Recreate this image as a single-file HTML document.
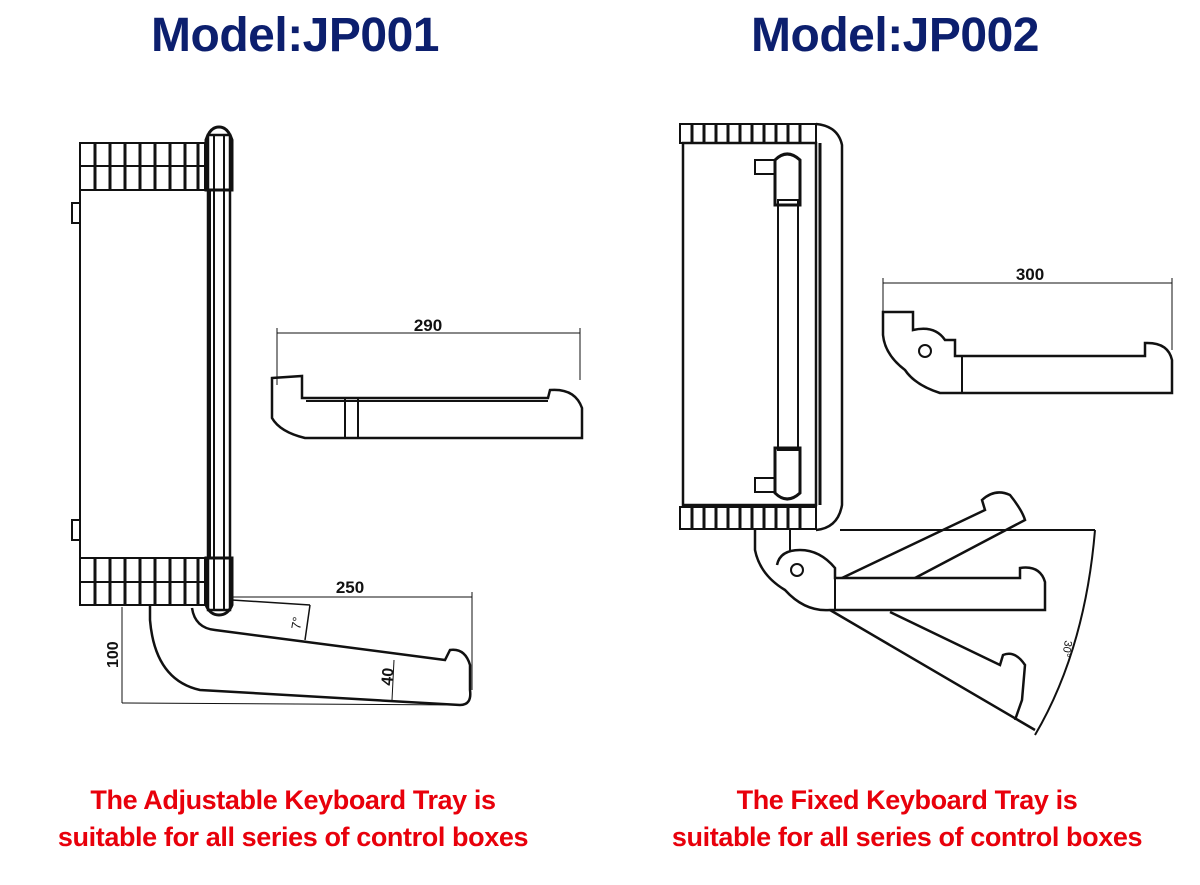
<!DOCTYPE html>
<html><head><meta charset="utf-8"><style>
body{margin:0;width:1200px;height:885px;background:#fff;overflow:hidden;position:relative;font-family:"Liberation Sans","Noto Sans CJK SC",sans-serif}
.t{position:absolute;top:8px;font-weight:bold;font-size:48px;color:#0c1f6e;width:600px;text-align:center;letter-spacing:-0.5px}
.r{position:absolute;top:782px;font-weight:bold;font-size:27px;color:#e8000b;width:600px;text-align:center;line-height:37px;letter-spacing:-0.4px}
svg{position:absolute;left:0;top:0}
</style></head><body>
<div class="t" style="left:-5px">Model:JP001</div>
<div class="t" style="left:595px">Model:JP002</div>
<svg width="1200" height="885" viewBox="0 0 1200 885" fill="none" stroke="#111" stroke-width="2">
<!-- JP001 -->
<rect x="80" y="143" width="125" height="47"/>
<line x1="80" y1="166" x2="205" y2="166"/>
<g stroke-width="3">
<line x1="95" y1="143" x2="95" y2="190"/><line x1="110" y1="143" x2="110" y2="190"/><line x1="125" y1="143" x2="125" y2="190"/><line x1="140" y1="143" x2="140" y2="190"/><line x1="155" y1="143" x2="155" y2="190"/><line x1="170" y1="143" x2="170" y2="190"/><line x1="185" y1="143" x2="185" y2="190"/><line x1="198" y1="143" x2="198" y2="190"/>
</g>
<rect x="80" y="190" width="130" height="368"/>
<rect x="72" y="203" width="8" height="20"/><rect x="72" y="520" width="8" height="20"/>
<rect x="80" y="558" width="125" height="47"/>
<line x1="80" y1="582" x2="205" y2="582"/>
<g stroke-width="3">
<line x1="95" y1="558" x2="95" y2="605"/><line x1="110" y1="558" x2="110" y2="605"/><line x1="125" y1="558" x2="125" y2="605"/><line x1="140" y1="558" x2="140" y2="605"/><line x1="155" y1="558" x2="155" y2="605"/><line x1="170" y1="558" x2="170" y2="605"/><line x1="185" y1="558" x2="185" y2="605"/><line x1="198" y1="558" x2="198" y2="605"/>
</g>
<rect x="208" y="135" width="22" height="475" stroke-width="2.5"/>
<line x1="214" y1="135" x2="214" y2="610"/><line x1="224" y1="135" x2="224" y2="610"/>
<path d="M206 190 L206 140 Q210 127 219 127 Q228 127 232 140 L232 190 Z" stroke-width="3"/>
<path d="M206 558 L232 558 L232 605 Q228 615 219 615 Q210 615 206 605 Z" stroke-width="3"/>
<!-- 290 tray -->
<line x1="277" y1="333" x2="580" y2="333" stroke-width="1"/>
<line x1="277" y1="328" x2="277" y2="385" stroke-width="1"/><line x1="580" y1="328" x2="580" y2="380" stroke-width="1"/>
<text x="428" y="331" font-family="Liberation Sans" font-size="17" fill="#111" stroke="none" text-anchor="middle" font-weight="bold">290</text>
<path d="M272 378 L302 376 L302 398 L548 398 L550 390 Q575 388 582 408 L582 438 L305 438 Q280 432 272 418 Z" stroke-width="2.5"/>
<line x1="306" y1="401" x2="548" y2="401"/>
<line x1="345" y1="398" x2="345" y2="438"/><line x1="358" y1="398" x2="358" y2="438"/>
<!-- lower tray JP001 -->
<path d="M150 605 L150 620 Q155 680 200 690 L460 705 Q472 705 470 690 L470 665 Q465 648 450 650 L445 660 L215 630 Q195 628 192 608" stroke-width="2.5"/>
<line x1="232" y1="600" x2="310" y2="605" stroke-width="1.5"/>
<line x1="310" y1="605" x2="305" y2="640" stroke-width="1.5"/>
<text x="300" y="630" font-family="Liberation Sans" font-size="13" fill="#111" stroke="none" transform="rotate(-80 300 630)">7°</text>
<line x1="232" y1="597" x2="472" y2="597" stroke-width="1"/><line x1="472" y1="592" x2="472" y2="690" stroke-width="1"/>
<text x="350" y="593" font-family="Liberation Sans" font-size="17" fill="#111" stroke="none" text-anchor="middle" font-weight="bold">250</text>
<line x1="394" y1="660" x2="392" y2="700" stroke-width="1"/>
<text x="392" y="686" font-family="Liberation Sans" font-size="16" fill="#111" stroke="none" transform="rotate(-85 392 686)" font-weight="bold">40</text>
<line x1="122" y1="607" x2="122" y2="703" stroke-width="1"/><line x1="122" y1="703" x2="460" y2="705" stroke-width="1"/>
<text x="118" y="668" font-family="Liberation Sans" font-size="16" fill="#111" stroke="none" transform="rotate(-90 118 668)" font-weight="bold">100</text>
<!-- JP002 -->
<rect x="680" y="124" width="136" height="19"/>
<g stroke-width="3">
<line x1="692" y1="124" x2="692" y2="143"/><line x1="704" y1="124" x2="704" y2="143"/><line x1="716" y1="124" x2="716" y2="143"/><line x1="728" y1="124" x2="728" y2="143"/><line x1="740" y1="124" x2="740" y2="143"/><line x1="752" y1="124" x2="752" y2="143"/><line x1="764" y1="124" x2="764" y2="143"/><line x1="776" y1="124" x2="776" y2="143"/><line x1="788" y1="124" x2="788" y2="143"/><line x1="800" y1="124" x2="800" y2="143"/>
</g>
<rect x="683" y="143" width="133" height="362" stroke-width="2.5"/>
<path d="M816 124 Q838 126 842 145 L842 505 Q838 528 816 530" stroke-width="2.5"/>
<line x1="820" y1="143" x2="820" y2="505" stroke-width="3"/>
<rect x="680" y="507" width="136" height="22"/>
<g stroke-width="3">
<line x1="692" y1="507" x2="692" y2="529"/><line x1="704" y1="507" x2="704" y2="529"/><line x1="716" y1="507" x2="716" y2="529"/><line x1="728" y1="507" x2="728" y2="529"/><line x1="740" y1="507" x2="740" y2="529"/><line x1="752" y1="507" x2="752" y2="529"/><line x1="764" y1="507" x2="764" y2="529"/><line x1="776" y1="507" x2="776" y2="529"/><line x1="788" y1="507" x2="788" y2="529"/><line x1="800" y1="507" x2="800" y2="529"/>
</g>
<rect x="778" y="200" width="20" height="250"/>
<path d="M775 205 L775 160 Q787 148 800 160 L800 205 Z" stroke-width="3"/>
<path d="M775 448 L800 448 L800 493 Q787 505 775 493 Z" stroke-width="3"/>
<rect x="755" y="160" width="20" height="14"/><rect x="755" y="478" width="20" height="14"/>
<!-- 300 tray -->
<line x1="883" y1="283" x2="1172" y2="283" stroke-width="1"/>
<line x1="883" y1="278" x2="883" y2="320" stroke-width="1"/><line x1="1172" y1="278" x2="1172" y2="350" stroke-width="1"/>
<text x="1030" y="280" font-family="Liberation Sans" font-size="17" fill="#111" stroke="none" text-anchor="middle" font-weight="bold">300</text>
<path d="M883 312 L913 312 L913 330 Q935 325 945 340 L955 340 L955 356 L1145 356 L1145 343 Q1168 342 1172 360 L1172 393 L940 393 Q915 385 905 370 Q885 355 883 335 Z" stroke-width="2.5"/>
<circle cx="925" cy="351" r="6"/>
<line x1="962" y1="356" x2="962" y2="393"/>
<!-- lower fold -->
<path d="M755 530 L755 550 Q760 575 785 590 Q805 612 830 610 L1045 610 L1045 582 Q1040 565 1020 568 L1020 578 L835 578 L835 568 Q820 550 800 550 Q780 550 777 565" stroke-width="2.5"/>
<circle cx="797" cy="570" r="6"/>
<line x1="790" y1="530" x2="790" y2="552"/>
<line x1="835" y1="578" x2="835" y2="610"/>
<path d="M842 578 L985 510 L982 500 Q995 488 1010 495 Q1022 510 1025 520 L915 578" stroke-width="2.5"/>
<path d="M830 610 L1035 730 M890 612 L1000 665 L1003 655 Q1015 650 1025 665 L1022 700 L1015 720"  stroke-width="2.5"/>
<line x1="840" y1="530" x2="1095" y2="530"/>
<path d="M1095 530 Q1085 650 1035 735" />
<text x="1065" y="640" font-family="Liberation Sans" font-size="11" fill="#111" stroke="none" transform="rotate(100 1065 640)">30°</text>
</svg>
<div class="r" style="left:-7px">The Adjustable Keyboard Tray is<br>suitable for all series of control boxes</div>
<div class="r" style="left:607px">The Fixed Keyboard Tray is<br>suitable for all series of control boxes</div>
</body></html>
